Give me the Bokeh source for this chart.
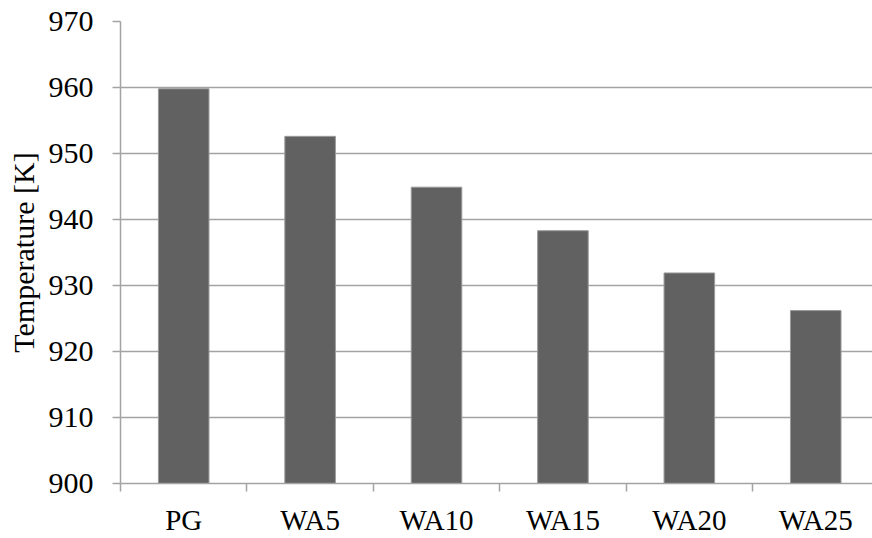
from bokeh.plotting import figure
from bokeh.models import FixedTicker, Range1d
from bokeh.embed import file_html
from bokeh.resources import INLINE

categories = ["PG", "WA5", "WA10", "WA15", "WA20", "WA25"]
temperatures = [959.8, 952.6, 944.9, 938.3, 931.9, 926.2]
y_ticks = [900, 910, 920, 930, 940, 950, 960, 970]

centers = [i + 0.5 for i in range(len(categories))]
bounds = [i for i in range(len(categories) + 1)]

FONT = "Liberation Serif"
GRAY = "#a3a3a3"

p = figure(width=872, height=538, output_backend="svg", toolbar_location=None,
           x_range=Range1d(0, 5.949), y_range=Range1d(900, 970),
           min_border_left=120, min_border_top=21, min_border_right=0,
           min_border_bottom=50)
p.outline_line_color = None
p.background_fill_color = "white"
p.border_fill_color = "white"

p.vbar(x=centers, top=temperatures, bottom=900, width=0.4,
       fill_color="#616161", line_color="#9a9a9a", line_width=1)

# y axis
p.yaxis.ticker = FixedTicker(ticks=y_ticks)
p.yaxis.major_label_overrides = {t: str(t) for t in y_ticks}
p.yaxis.axis_line_color = GRAY
p.yaxis.axis_line_width = 1.5
p.yaxis.major_tick_line_color = GRAY
p.yaxis.major_tick_line_width = 1.5
p.yaxis.major_tick_out = 8
p.yaxis.major_tick_in = 0
p.yaxis.minor_tick_line_color = None
p.yaxis.major_label_text_font = FONT
p.yaxis.major_label_text_font_size = "30px"
p.yaxis.major_label_text_color = "black"
p.yaxis.major_label_standoff = 19
p.yaxis.axis_label = "Temperature [K]"
p.yaxis.axis_label_text_font = FONT
p.yaxis.axis_label_text_font_size = "30px"
p.yaxis.axis_label_text_font_style = "normal"
p.yaxis.axis_label_text_color = "black"
p.yaxis.axis_label_standoff = 6

# x axis: labels at centers, ticks at category boundaries
p.xaxis.ticker = FixedTicker(ticks=centers, minor_ticks=bounds)
p.xaxis.major_label_overrides = {c: name for c, name in zip(centers, categories)}
p.xaxis.axis_line_color = GRAY
p.xaxis.axis_line_width = 1.5
p.xaxis.major_tick_line_color = None
p.xaxis.major_tick_out = 0
p.xaxis.major_tick_in = 0
p.xaxis.minor_tick_line_color = GRAY
p.xaxis.minor_tick_line_width = 1.5
p.xaxis.minor_tick_out = 8
p.xaxis.minor_tick_in = 0
p.xaxis.major_label_text_font = FONT
p.xaxis.major_label_text_font_size = "29px"
p.xaxis.major_label_text_color = "black"
p.xaxis.major_label_standoff = 12

p.xgrid.grid_line_color = None
p.ygrid.ticker = FixedTicker(ticks=y_ticks)
p.ygrid.grid_line_color = GRAY
p.ygrid.grid_line_width = 1.5

open("out.html", "w").write(file_html(p, INLINE))
